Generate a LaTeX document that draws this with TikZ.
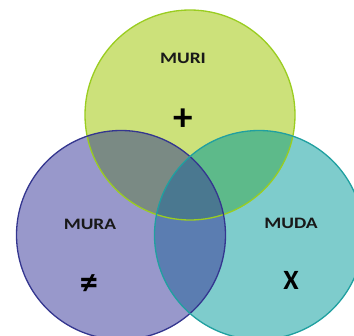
\documentclass[tikz,border=0pt]{standalone}
\usepackage{fontspec}
\setmainfont{Carlito}
\begin{document}
\definecolor{muriFill}{HTML}{CCE17A}
\definecolor{muriLine}{HTML}{9ACD20}
\definecolor{muraFill}{HTML}{9898CB}
\definecolor{muraLine}{HTML}{34368F}
\definecolor{mudaFill}{HTML}{7ECCCC}
\definecolor{mudaLine}{HTML}{20A0A0}
\definecolor{riRa}{HTML}{7A8A84}
\definecolor{riDa}{HTML}{5DBA8A}
\definecolor{raDa}{HTML}{5B7DB1}
\definecolor{allThree}{HTML}{4A7890}
\begin{tikzpicture}[x=1bp,y=-1bp,
  label/.style={font=\bfseries\fontsize{16}{16}\selectfont, text=black!90},
  sign/.style={font=\bfseries\fontsize{28}{28}\selectfont, text=black},
  ring/.style={line width=1.3bp}]
\useasboundingbox (0,0) rectangle (354,336);
\def\ri{(190,115) circle (105)}
\def\ra{(121,235) circle (104.5)}
\def\da{(259,235) circle (104.5)}
% base fills
\fill[muriFill] \ri;
\fill[muraFill] \ra;
\fill[mudaFill] \da;
% pairwise overlaps
\begin{scope}\clip \ri; \fill[riRa] \ra; \end{scope}
\begin{scope}\clip \ri; \fill[riDa] \da; \end{scope}
\begin{scope}\clip \ra; \fill[raDa] \da; \end{scope}
\begin{scope}\clip \ri; \clip \ra; \fill[allThree] \da; \end{scope}
% outlines
\draw[ring, muriLine] \ri;
\draw[ring, muraLine] \ra;
\draw[ring, mudaLine] \da;
% labels
\node[label] (muri) at (183,58) {\scalebox{1.22}[1]{MURI}};
\node[label] (mura) at (90,224) {\scalebox{1.22}[1]{MURA}};
\node[label] (muda) at (291,223) {\scalebox{1.22}[1]{MUDA}};
\node[sign] (plus) at (183.5,120) {\scalebox{1.4}{+}};
\node[sign] (neq) at (89,285) {\scalebox{1.3}{≠}};
\node[sign] (times) at (291,280) {X};
\end{tikzpicture}
\end{document}
